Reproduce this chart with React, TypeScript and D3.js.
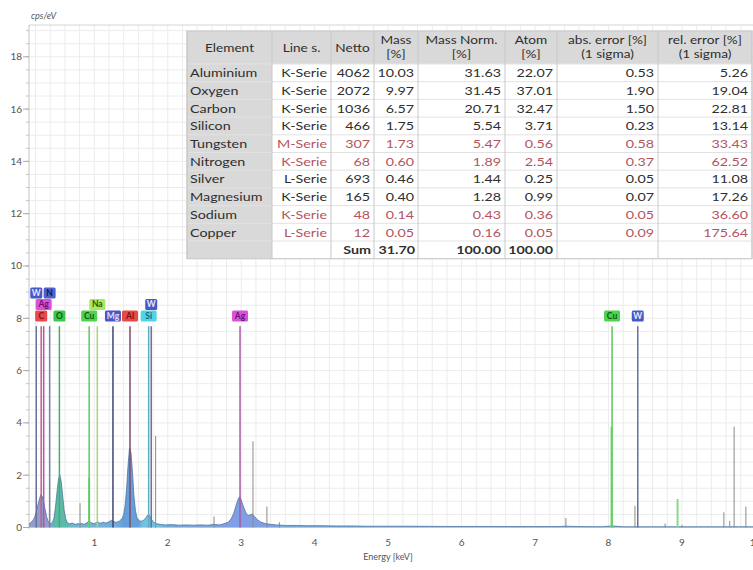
import React from "react";
import * as d3 from "d3";

// ---------- DATA ----------
// Spectrum: [energy keV, cps/eV]
const spectrum: [number, number][] = [
  [0.11, 0.12], [0.13, 0.18], [0.15, 0.22], [0.17, 0.3], [0.19, 0.42], [0.21, 0.6],
  [0.23, 0.85], [0.25, 1.05], [0.27, 1.25], [0.29, 1.2], [0.31, 1.0], [0.33, 0.7],
  [0.35, 0.42], [0.37, 0.25], [0.39, 0.16], [0.41, 0.14], [0.43, 0.2], [0.45, 0.35],
  [0.47, 0.75], [0.49, 1.3], [0.51, 1.8], [0.53, 2.02], [0.55, 1.75], [0.57, 1.2],
  [0.59, 0.65], [0.61, 0.35], [0.63, 0.2], [0.66, 0.14], [0.7, 0.17], [0.74, 0.12],
  [0.78, 0.15], [0.8, 0.13], [0.82, 0.16], [0.86, 0.12], [0.9, 0.18], [0.93, 0.25],
  [0.96, 0.18], [1.0, 0.14], [1.04, 0.22], [1.08, 0.16], [1.12, 0.2], [1.16, 0.17],
  [1.2, 0.22], [1.24, 0.28], [1.27, 0.22], [1.3, 0.2], [1.34, 0.24], [1.38, 0.35],
  [1.4, 0.5], [1.42, 0.85], [1.44, 1.5], [1.46, 2.4], [1.48, 3.05], [1.5, 2.85],
  [1.52, 2.1], [1.54, 1.2], [1.56, 0.65], [1.58, 0.38], [1.61, 0.26], [1.64, 0.24],
  [1.67, 0.28], [1.7, 0.36], [1.72, 0.45], [1.74, 0.5], [1.76, 0.42], [1.78, 0.3],
  [1.81, 0.2], [1.85, 0.14], [1.9, 0.12], [1.96, 0.1], [2.05, 0.11], [2.15, 0.09],
  [2.25, 0.1], [2.35, 0.09], [2.45, 0.1], [2.55, 0.09], [2.63, 0.12], [2.7, 0.1],
  [2.76, 0.14], [2.82, 0.2], [2.86, 0.32], [2.9, 0.55], [2.93, 0.85], [2.96, 1.1],
  [2.98, 1.18], [3.0, 1.05], [3.03, 0.8], [3.06, 0.58], [3.09, 0.46], [3.12, 0.48],
  [3.15, 0.52], [3.18, 0.42], [3.22, 0.3], [3.27, 0.2], [3.33, 0.15], [3.4, 0.12],
  [3.48, 0.1], [3.6, 0.08], [3.75, 0.08], [3.9, 0.07], [4.1, 0.07], [4.3, 0.06],
  [4.5, 0.06], [4.7, 0.05], [4.9, 0.05], [5.2, 0.05], [5.5, 0.045], [5.8, 0.04],
  [6.1, 0.04], [6.4, 0.04], [6.7, 0.035], [7.0, 0.035], [7.3, 0.035], [7.42, 0.05],
  [7.6, 0.035], [7.9, 0.03], [8.05, 0.06], [8.2, 0.03], [8.5, 0.03], [8.8, 0.03],
  [9.1, 0.03], [9.4, 0.03], [9.7, 0.03], [10.0, 0.03], [10.3, 0.03],
];

// Labelled element lines (in the order the software stacks them)
const markerSymbols = ["C", "O", "Cu", "Mg", "Al", "Si", "Ag", "Cu", "W", "Ag", "Na", "W", "W", "N"];
const markerEnergies = [0.277, 0.525, 0.93, 1.254, 1.486, 1.74, 2.984, 8.048, 8.398, 0.311, 1.041, 1.775, 0.21, 0.392];

// Unlabelled peak lines: energy, height, family
const peakEnergies = [0.806, 0.93, 1.835, 2.63, 3.16, 3.35, 3.52, 7.42, 8.04, 8.36, 8.77, 8.94, 9.0, 9.57, 9.65, 9.71, 9.87, 10.0];
const peakHeights = [0.93, 1.9, 3.5, 0.42, 3.3, 0.8, 0.2, 0.36, 3.85, 0.83, 0.15, 1.09, 0.1, 0.58, 0.25, 3.85, 0.8, 1.75];
const peakFamilies = ["x", "Cu", "x", "x", "x", "x", "x", "x", "Cu", "x", "x", "Cu", "x", "x", "x", "x", "x", "x"];

const yTicks = [0, 2, 4, 6, 8, 10, 12, 14, 16, 18];
const xTicks = [1, 2, 3, 4, 5, 6, 7, 8, 9, 10];

// Quantification table
const tableHeaders = [["Element"], ["Line s."], ["Netto"], ["Mass", "[%]"], ["Mass Norm.", "[%]"], ["Atom", "[%]"], ["abs. error [%]", "(1 sigma)"], ["rel. error [%]", "(1 sigma)"]];
const elementNames = ["Aluminium", "Oxygen", "Carbon", "Silicon", "Tungsten", "Nitrogen", "Silver", "Magnesium", "Sodium", "Copper"];
const lineSeries = ["K-Serie", "K-Serie", "K-Serie", "K-Serie", "M-Serie", "K-Serie", "L-Serie", "K-Serie", "K-Serie", "L-Serie"];
const netto = [4062, 2072, 1036, 466, 307, 68, 693, 165, 48, 12];
const massPct = [10.03, 9.97, 6.57, 1.75, 1.73, 0.6, 0.46, 0.4, 0.14, 0.05];
const massNorm = [31.63, 31.45, 20.71, 5.54, 5.47, 1.89, 1.44, 1.28, 0.43, 0.16];
const atomPct = [22.07, 37.01, 32.47, 3.71, 0.56, 2.54, 0.25, 0.99, 0.36, 0.05];
const absError = [0.53, 1.9, 1.5, 0.23, 0.58, 0.37, 0.05, 0.07, 0.05, 0.09];
const relError = [5.26, 19.04, 22.81, 13.14, 33.43, 62.52, 11.08, 17.26, 36.6, 175.64];
const flagged = [false, false, false, false, true, true, false, false, true, true];
const sumLabel = "Sum";
const sumMass = 31.7;
const sumNorm = 100.0;
const sumAtom = 100.0;

// ---------- STYLES ----------
const elementStyle: Record<string, { box: string; text: string; line: string }> = {
  C: { box: "#e8484c", text: "#8a1418", line: "#cc5a7c" },
  O: { box: "#3cc84a", text: "#0b5a14", line: "#4aac64" },
  Cu: { box: "#4fd24f", text: "#0d5a10", line: "#5cc85c" },
  Mg: { box: "#4a56c4", text: "#dde0ff", line: "#3e4672" },
  Al: { box: "#e54a4a", text: "#7a1010", line: "#84486a" },
  Si: { box: "#4fd6e2", text: "#156a86", line: "#5aaec0" },
  Ag: { box: "#dc4fdc", text: "#6a146a", line: "#a85aa8" },
  W: { box: "#4a58c6", text: "#e4e8ff", line: "#66729e" },
  Na: { box: "#a8e85c", text: "#2a5a0c", line: "#a4d874" },
  N: { box: "#4f62cc", text: "#101a50", line: "#7a82a4" },
};

const FONT = "Lato, 'Open Sans', sans-serif";

function ST(props: { x: number; y: number; anchor?: string; bold?: boolean; fill?: string; size?: number; children: any }) {
  const { x, y, anchor = "start", bold, fill = "#333", size = 11, children } = props;
  return (
    <text
      transform={`translate(${x},${y}) scale(1.3,1)`}
      textAnchor={anchor}
      fontWeight={bold ? 700 : 400}
      fill={fill}
      fontSize={size}
      fontFamily={FONT}
    >
      {children}
    </text>
  );
}

export default function App() {
  const W = 753;
  const H = 570;
  const plotLeft = 29;
  const plotTop = 25;

  const x = d3.scaleLinear().domain([0, 10.3]).range([20.84, 20.84 + 73.46 * 10.3]);
  const y = d3.scaleLinear().domain([0, 19.2]).range([527.5, 25.4]);
  const plotBottom = y(-0.05);
  const plotRight = x(10.3);

  const area = d3
    .area<[number, number]>()
    .x((d) => x(d[0]))
    .y0(y(0))
    .y1((d) => y(d[1]));
  const line = d3
    .line<[number, number]>()
    .x((d) => x(d[0]))
    .y((d) => y(d[1]));

  // grid
  const vGrid = d3.range(0.2, 10.3, 0.2);
  const hGrid = d3.range(0, 19.2, 0.5);

  // label stacking (greedy)
  const boxH = y(0) - y(0.44);
  const level0Bottom = y(7.86);
  const lineTop = y(7.7);
  const placed: { l: number; r: number; level: number }[] = [];
  const markers = markerSymbols.map((s, i) => {
    const cx = x(markerEnergies[i]);
    const w = s.length === 1 ? 12 : 16;
    let level = 0;
    while (placed.some((p) => p.level === level && !(cx + w / 2 <= p.l || cx - w / 2 >= p.r))) level++;
    placed.push({ l: cx - w / 2, r: cx + w / 2, level });
    return { s, cx, w, level, e: markerEnergies[i] };
  });

  // gradient for spectrum colouring
  const gradStops: [number, string][] = [
    [0, "#7f8cc4"], [0.4, "#7f8cc4"], [0.45, "#3fae9c"], [0.62, "#3fae9c"], [0.7, "#5aa6c8"],
    [1.3, "#5aa0d8"], [1.4, "#4a8fd4"], [1.6, "#4a8fd4"], [1.66, "#5ab8d8"], [1.85, "#5ab8d8"],
    [2.0, "#5a9ad0"], [2.8, "#6a8ee0"], [3.4, "#6a8ee0"], [3.6, "#5a9ad0"], [10.3, "#5a9ad0"],
  ];

  // table geometry
  const colX = [187, 272, 331, 374, 418, 505, 557, 658, 752];
  const tTop = 31;
  const headH = 33;
  const rowH = 17.7;
  const nRows = elementNames.length + 1;
  const tBottom = tTop + headH + rowH * nRows;
  const red = "#b4545c";
  const dark = "#2e2e2e";

  const rowCells = (i: number) => [
    lineSeries[i],
    String(netto[i]),
    massPct[i].toFixed(2),
    massNorm[i].toFixed(2),
    atomPct[i].toFixed(2),
    absError[i].toFixed(2),
    relError[i].toFixed(2),
  ];

  return (
    <svg width={W} height={H} style={{ position: "absolute", left: 0, top: 0, background: "#fff" }}>
      <defs>
        <clipPath id="plotClip">
          <rect x={plotLeft} y={plotTop} width={plotRight - plotLeft} height={plotBottom - plotTop} />
        </clipPath>
        <linearGradient id="specGrad" gradientUnits="userSpaceOnUse" x1={x(0)} x2={x(10.3)} y1={0} y2={0}>
          {gradStops.map(([e, c], i) => (
            <stop key={i} offset={e / 10.3} stopColor={c} />
          ))}
        </linearGradient>
      </defs>
      <rect x={0} y={0} width={W} height={H} fill="#fff" />

      {/* grid */}
      <g clipPath="url(#plotClip)">
        {vGrid.map((e, i) => (
          <line key={"v" + i} x1={x(e)} x2={x(e)} y1={plotTop} y2={plotBottom} stroke="#ececec" strokeWidth={1} />
        ))}
        {hGrid.map((v, i) => (
          <line key={"h" + i} x1={plotLeft} x2={plotRight} y1={y(v)} y2={y(v)} stroke="#ececec" strokeWidth={1} />
        ))}
      </g>
      <line x1={plotLeft} x2={plotRight} y1={plotTop} y2={plotTop} stroke="#d4d4d4" />
      <line x1={plotLeft} x2={plotLeft} y1={plotTop} y2={plotBottom} stroke="#c4c4c4" />

      {/* y axis */}
      {hGrid.map((v, i) => (
        <line key={"mt" + i} x1={plotLeft - 3} x2={plotLeft} y1={y(v)} y2={y(v)} stroke="#c4c4c4" />
      ))}
      {yTicks.map((t) => (
        <g key={"yt" + t}>
          <line x1={plotLeft - 6} x2={plotLeft} y1={y(t)} y2={y(t)} stroke="#aaa" />
          <text x={plotLeft - 7} y={y(t) + 3.5} textAnchor="end" fontSize={10} fill="#555" fontFamily={FONT}>
            {t}
          </text>
        </g>
      ))}
      <text x={31} y={19} fontSize={9} fill="#555" fontFamily={FONT} fontStyle="italic">
        cps/eV
      </text>

      {/* x axis */}
      {xTicks.map((t) => (
        <text key={"xt" + t} x={x(t)} y={546} textAnchor="middle" fontSize={10} fill="#555" fontFamily={FONT}>
          {t}
        </text>
      ))}
      <text x={388} y={560} textAnchor="middle" fontSize={9} fill="#555" fontFamily={FONT}>
        Energy [keV]
      </text>

      <g clipPath="url(#plotClip)">
        {/* spectrum */}
        <path d={area(spectrum) || ""} fill="url(#specGrad)" fillOpacity={0.85} />
        <path d={line(spectrum) || ""} fill="none" stroke="#44699a" strokeWidth={0.7} />

        {/* unlabelled peak lines */}
        {peakEnergies.map((e, i) => {
          const isCu = peakFamilies[i] === "Cu";
          return (
            <line
              key={"p" + i}
              x1={x(e)}
              x2={x(e)}
              y1={y(0)}
              y2={y(peakHeights[i])}
              stroke={isCu ? "#86dc86" : "#8a8a8a"}
              strokeWidth={isCu ? 2 : 1}
            />
          );
        })}

        {/* labelled element lines */}
        {markers.map((m, i) => (
          <line
            key={"m" + i}
            x1={m.cx}
            x2={m.cx}
            y1={y(0)}
            y2={lineTop}
            stroke={elementStyle[m.s].line}
            strokeWidth={1.5}
          />
        ))}
      </g>

      {/* label boxes */}
      {markers.map((m, i) => {
        const st = elementStyle[m.s];
        const top = level0Bottom - boxH * (m.level + 1);
        return (
          <g key={"b" + i}>
            <rect x={m.cx - m.w / 2} y={top} width={m.w} height={boxH - 0.5} rx={1.5} fill={st.box} />
            <text
              x={m.cx}
              y={top + boxH - 3.2}
              textAnchor="middle"
              fontSize={8.5}
              fontWeight={700}
              fill={st.text}
              fontFamily={FONT}
            >
              {m.s}
            </text>
          </g>
        );
      })}

      {/* table */}
      <g>
        <rect x={colX[0]} y={tTop} width={colX[8] - colX[0]} height={tBottom - tTop} fill="#fff" />
        <rect x={colX[0]} y={tTop} width={colX[8] - colX[0]} height={headH} fill="#d9d9d9" />
        <rect x={colX[0]} y={tTop} width={colX[1] - colX[0]} height={tBottom - tTop} fill="#d9d9d9" />
        {/* row lines */}
        {d3.range(nRows + 1).map((r) => (
          <line
            key={"rl" + r}
            x1={colX[0]}
            x2={colX[8]}
            y1={tTop + headH + r * rowH}
            y2={tTop + headH + r * rowH}
            stroke="#e2e2e2"
          />
        ))}
        {colX.map((cx, i) => (
          <line key={"cl" + i} x1={cx} x2={cx} y1={tTop} y2={tBottom} stroke="#c8c8c8" />
        ))}
        <rect x={colX[0]} y={tTop} width={colX[8] - colX[0]} height={tBottom - tTop} fill="none" stroke="#c8c8c8" />

        {/* headers */}
        {tableHeaders.map((h, c) => {
          const cx = (colX[c] + colX[c + 1]) / 2;
          if (h.length === 1)
            return (
              <ST key={"th" + c} x={cx} y={tTop + 21} anchor="middle" fill={dark} size={10.5}>
                {h[0]}
              </ST>
            );
          return (
            <g key={"th" + c}>
              <ST x={cx} y={tTop + 13} anchor="middle" fill={dark} size={10.5}>
                {h[0]}
              </ST>
              <ST x={cx} y={tTop + 26.5} anchor="middle" fill={dark} size={10.5}>
                {h[1]}
              </ST>
            </g>
          );
        })}

        {/* data rows */}
        {elementNames.map((name, i) => {
          const base = tTop + headH + i * rowH + 13.2;
          const col = flagged[i] ? red : dark;
          const cells = rowCells(i);
          return (
            <g key={"row" + i}>
              <ST x={colX[0] + 3} y={base} fill={dark}>
                {name}
              </ST>
              {cells.map((v, c) => (
                <ST key={c} x={colX[c + 2] - 4} y={base} anchor="end" fill={col}>
                  {v}
                </ST>
              ))}
            </g>
          );
        })}
        {/* sum row */}
        {(() => {
          const base = tTop + headH + elementNames.length * rowH + 13.2;
          return (
            <g>
              <ST x={colX[3] - 3} y={base} anchor="end" bold fill={dark}>
                {sumLabel}
              </ST>
              <ST x={colX[4] - 3} y={base} anchor="end" bold fill={dark}>
                {sumMass.toFixed(2)}
              </ST>
              <ST x={colX[5] - 4} y={base} anchor="end" bold fill={dark}>
                {sumNorm.toFixed(2)}
              </ST>
              <ST x={colX[6] - 4} y={base} anchor="end" bold fill={dark}>
                {sumAtom.toFixed(2)}
              </ST>
            </g>
          );
        })()}
      </g>
    </svg>
  );
}
